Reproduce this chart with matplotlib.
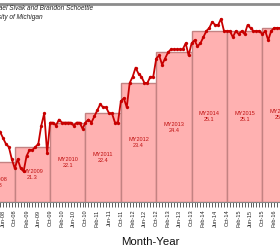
import matplotlib
matplotlib.use("Agg")
import matplotlib.pyplot as plt
import numpy as np

plt.rcParams['font.family'] = ['Liberation Sans', 'DejaVu Sans']

# Monthly sales-weighted fuel economy (mpg), May-08 .. Apr-16
month_labels = [
    "May-08", "Jun-08", "Jul-08", "Aug-08", "Sep-08",
    "Oct-08", "Nov-08", "Dec-08", "Jan-09", "Feb-09", "Mar-09", "Apr-09", "May-09", "Jun-09", "Jul-09", "Aug-09", "Sep-09",
    "Oct-09", "Nov-09", "Dec-09", "Jan-10", "Feb-10", "Mar-10", "Apr-10", "May-10", "Jun-10", "Jul-10", "Aug-10", "Sep-10",
    "Oct-10", "Nov-10", "Dec-10", "Jan-11", "Feb-11", "Mar-11", "Apr-11", "May-11", "Jun-11", "Jul-11", "Aug-11", "Sep-11",
    "Oct-11", "Nov-11", "Dec-11", "Jan-12", "Feb-12", "Mar-12", "Apr-12", "May-12", "Jun-12", "Jul-12", "Aug-12", "Sep-12",
    "Oct-12", "Nov-12", "Dec-12", "Jan-13", "Feb-13", "Mar-13", "Apr-13", "May-13", "Jun-13", "Jul-13", "Aug-13", "Sep-13",
    "Oct-13", "Nov-13", "Dec-13", "Jan-14", "Feb-14", "Mar-14", "Apr-14", "May-14", "Jun-14", "Jul-14", "Aug-14", "Sep-14",
    "Oct-14", "Nov-14", "Dec-14", "Jan-15", "Feb-15", "Mar-15", "Apr-15", "May-15", "Jun-15", "Jul-15", "Aug-15", "Sep-15",
    "Oct-15", "Nov-15", "Dec-15", "Jan-16", "Feb-16", "Mar-16", "Apr-16",
]
mpg = [
    21.8, 21.6, 21.4, 21.3, 20.9,
    20.6, 20.9, 20.6, 20.5, 21.0, 21.2, 21.2, 21.3, 21.4, 22.0, 22.4, 21.1,
    22.1, 22.1, 22.0, 22.2, 22.1, 22.1, 22.1, 22.1, 22.0, 22.1, 22.1, 21.9,
    22.1, 22.2, 22.1, 22.3, 22.5, 22.7, 22.6, 22.6, 22.4, 22.4, 22.1, 22.1,
    22.8, 22.9, 22.6, 23.4, 23.6, 23.9, 23.7, 23.6, 23.4, 23.4, 23.6, 23.6,
    24.2, 24.3, 24.0, 24.2, 24.4, 24.5, 24.5, 24.5, 24.5, 24.5, 24.7, 24.3,
    24.7, 24.8, 24.6, 24.7, 24.9, 25.1, 25.2, 25.4, 25.3, 25.3, 25.5, 25.1,
    25.1, 25.1, 24.9, 25.1, 25.0, 25.1, 25.0, 25.3, 25.2, 25.1, 25.1, 25.1,
    25.0, 25.1, 24.8, 25.1, 25.2, 25.2, 25.2,
]

# Model-year averages
model_years = ["MY2008", "MY2009", "MY2010", "MY2011", "MY2012", "MY2013", "MY2014", "MY2015", "MY2016"]
my_mpg = [20.8, 21.3, 22.1, 22.4, 23.4, 24.4, 25.1, 25.1, 25.2]

# positions: month index, May-08 = 7 (Oct-07 = 0); model year N starts at October
first_month = 7
x = np.arange(len(mpg)) + first_month
my_start = np.arange(len(model_years)) * 12

ymin, ymax = 19.5, 26.0

fig = plt.figure(figsize=(2.8, 2.5), dpi=100)
ax = fig.add_axes([0.0, 0.1924, 1.0, 0.7932])

bar_fill = '#ffb1b1'
bar_edge = '#c48282'
ax.bar(my_start, np.array(my_mpg) - ymin, width=12, bottom=ymin, align='edge',
       color=bar_fill, edgecolor=bar_edge, linewidth=1.0, zorder=1)

for s, name, v in zip(my_start, model_years, my_mpg):
    ax.text(s + 6, (ymin + v) / 2, f"{name}\n{v}", ha='center', va='center',
            fontsize=4, color='#c01010', linespacing=1.25, zorder=2)

ax.plot(x, mpg, color='#c80000', lw=1.3, marker='o', markersize=2.4,
        markeredgewidth=0, zorder=3)

ax.set_xlim(7.29, 101.76)
ax.set_ylim(ymin, ymax)

ax.set_xticks(x)
ax.set_xticklabels([lab if lab[:3] in ("Feb", "Jun", "Oct") else "" for lab in month_labels],
                   rotation=90, fontsize=4, color='#222222')
ax.tick_params(axis='x', length=3.5, width=0.6, color='#444444', pad=2)
ax.set_yticks([])

for side in ('left', 'right'):
    ax.spines[side].set_visible(False)
ax.spines['top'].set_color('#8c8c8c')
ax.spines['top'].set_linewidth(2.0)
ax.spines['bottom'].set_color('#888888')
ax.spines['bottom'].set_linewidth(0.8)

fig.text(93 / 280, 1 - 8 / 250, "Michael Sivak and Brandon Schoettle", ha='right', va='center',
         fontsize=4.7, style='italic', color='#222222')
fig.text(43 / 280, 1 - 17 / 250, "University of Michigan", ha='right', va='center',
         fontsize=4.7, style='italic', color='#222222')

fig.text(150 / 280, 1 - 242 / 250, "Month-Year", ha='center', va='center', fontsize=8.2,
         color='#111111')

fig.savefig("out.png", dpi=100)
